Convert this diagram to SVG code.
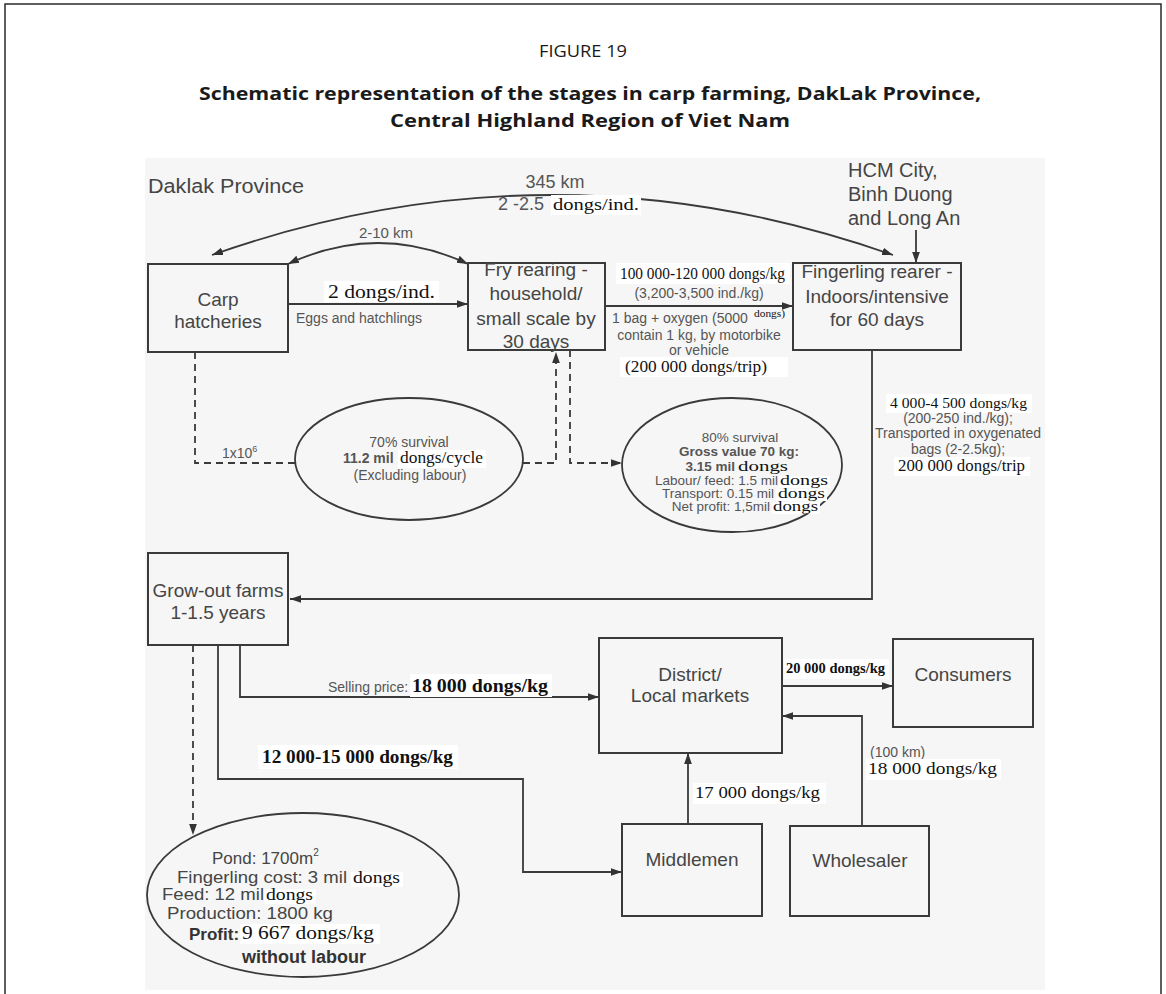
<svg xmlns="http://www.w3.org/2000/svg" width="1166" height="994" viewBox="0 0 1166 994">
  <style>
    .frame { fill: none; stroke: #2a2a2a; stroke-width: 1.5; }
    .panel { fill: #f6f6f6; }
    .box { fill: none; stroke: #3a3a3a; stroke-width: 2; }
    .oval { fill: none; stroke: #3a3a3a; stroke-width: 1.8; }
    .ntext { font-family: "Liberation Sans", Arial, sans-serif; font-size: 19px; fill: #454545; text-anchor: middle; }
    .place { font-family: "Liberation Sans", Arial, sans-serif; font-size: 20px; fill: #454545; }
    .small { font-family: "Liberation Sans", Arial, sans-serif; fill: #555; }
    .s14 { font-size: 14px; }
    .s135 { font-size: 13.5px; }
    .s18 { font-size: 18px; }
    .pond { font-size: 17px; fill: #454545; }
    .mid { text-anchor: middle; }
    .end { text-anchor: end; }
    .b { font-weight: bold; }
    .serif { font-family: "Liberation Serif", "Times New Roman", serif; fill: #111; }
    .bg { fill: #ffffff; }
    .line { fill: none; stroke: #3a3a3a; stroke-width: 1.8; }
    .dash { fill: none; stroke: #3a3a3a; stroke-width: 1.8; stroke-dasharray: 7 5; }
    .title { font-family: "Open Sans", "Liberation Sans", sans-serif; fill: #1a1a1a; text-anchor: middle; }
  </style>
  <defs>
    <marker id="arrow" viewBox="0 0 10 10" refX="10" refY="5" markerWidth="11" markerHeight="11" markerUnits="userSpaceOnUse" orient="auto-start-reverse">
      <path d="M0,1.5 L10,5 L0,8.5 z" fill="#333"/>
    </marker>
  </defs>

  <!-- page frame and figure header -->
  <path class="frame" d="M5,994 V4 H1161 V994"/>
  <text class="title" x="583" y="57" font-size="16.5" textLength="88" lengthAdjust="spacingAndGlyphs">FIGURE 19</text>
  <text class="title" x="590" y="100" font-size="18.5" font-weight="bold" textLength="782" lengthAdjust="spacingAndGlyphs">Schematic representation of the stages in carp farming, DakLak Province,</text>
  <text class="title" x="590" y="127" font-size="18.5" font-weight="bold" textLength="400" lengthAdjust="spacingAndGlyphs">Central Highland Region of Viet Nam</text>

  <!-- drawing panel -->
  <rect class="panel" x="145" y="158" width="900" height="832"/>

  <!-- region labels -->
  <g id="region-labels">
    <text class="place" x="148" y="193" textLength="156" lengthAdjust="spacingAndGlyphs">Daklak Province</text>
    <text class="place" x="848" y="177">HCM City,</text>
    <text class="place" x="848" y="201">Binh Duong</text>
    <text class="place" x="848" y="225">and Long An</text>
  </g>

  <!-- connectors -->
  <g id="connectors">
    <path class="line" d="M212,255 Q552,135 893,255" marker-start="url(#arrow)" marker-end="url(#arrow)"/>
    <path class="line" d="M288,264 Q378,222 468,264" marker-start="url(#arrow)" marker-end="url(#arrow)"/>
    <path class="line" d="M916,230 V263" marker-end="url(#arrow)"/>
    <path class="line" d="M288,304 H468" marker-end="url(#arrow)"/>
    <path class="line" d="M605,306 H793" marker-end="url(#arrow)"/>
    <path class="line" d="M872,350 V599 H290" marker-end="url(#arrow)"/>
    <path class="dash" d="M195,352 V463 H295"/>
    <path class="dash" d="M523,463 H556 V352" marker-end="url(#arrow)"/>
    <path class="dash" d="M570,350 V463 H622" marker-end="url(#arrow)"/>
    <path class="dash" d="M193,645 V835" marker-end="url(#arrow)"/>
    <path class="line" d="M240,645 V697 H599" marker-end="url(#arrow)"/>
    <path class="line" d="M218,645 V779 H523 V872 H622" marker-end="url(#arrow)"/>
    <path class="line" d="M782,686 H893" marker-end="url(#arrow)"/>
    <path class="line" d="M862,826 V716 H782" marker-end="url(#arrow)"/>
    <path class="line" d="M688,824 V753" marker-end="url(#arrow)"/>
  </g>

  <!-- connector labels -->
  <g id="connector-labels">
    <text class="small s18 mid" x="555" y="188">345 km</text>
    <text class="small s18" x="498" y="210">2 -2.5</text>
    <rect class="bg" x="551" y="195" width="90" height="20"/>
    <text class="serif" x="553" y="210" font-size="16" textLength="86" lengthAdjust="spacingAndGlyphs">dongs/ind.</text>
    <text class="small mid" x="386" y="238" style="font-size:15px">2-10 km</text>

    <rect class="bg" x="324" y="281" width="115" height="21"/>
    <text class="serif" x="328" y="298" font-size="19" textLength="107" lengthAdjust="spacingAndGlyphs">2 dongs/ind.</text>
    <text class="small s14" x="296" y="323">Eggs and hatchlings</text>

    <rect class="bg" x="616" y="263" width="174" height="21"/>
    <text class="serif" x="620" y="279" font-size="16" textLength="165" lengthAdjust="spacingAndGlyphs">100 000-120 000 dongs/kg</text>
    <text class="small s14 mid" x="699" y="298">(3,200-3,500 ind./kg)</text>
    <text class="small s14" x="612" y="323">1 bag + oxygen (5000</text>
    <text class="serif" x="754" y="317" font-size="11" textLength="31" lengthAdjust="spacingAndGlyphs">dongs)</text>
    <text class="small s14 mid" x="699" y="340">contain 1 kg, by motorbike</text>
    <text class="small s14 mid" x="699" y="355">or vehicle</text>
    <rect class="bg" x="620" y="357" width="168" height="20"/>
    <text class="serif" x="625" y="372" font-size="17" textLength="142" lengthAdjust="spacingAndGlyphs">(200 000 dongs/trip)</text>

    <rect class="bg" x="886" y="394" width="146" height="19"/>
    <text class="serif" x="890" y="408" font-size="15" textLength="137" lengthAdjust="spacingAndGlyphs">4 000-4 500 dongs/kg</text>
    <text class="small s14 mid" x="958" y="423">(200-250 ind./kg);</text>
    <text class="small s14 mid" x="958" y="438">Transported in oxygenated</text>
    <text class="small s14 mid" x="958" y="454">bags (2-2.5kg);</text>
    <rect class="bg" x="894" y="457" width="136" height="19"/>
    <text class="serif" x="898" y="471" font-size="16" textLength="127" lengthAdjust="spacingAndGlyphs">200 000 dongs/trip</text>

    <text class="small s14" x="222" y="458">1x10<tspan style="font-size:9px" dy="-6">6</tspan></text>

    <text class="small s14" x="328" y="692">Selling price:</text>
    <rect class="bg" x="410" y="674" width="142" height="23"/>
    <text class="serif b" x="412" y="692" font-size="18" textLength="136" lengthAdjust="spacingAndGlyphs">18 000 dongs/kg</text>

    <rect class="bg" x="258" y="745" width="200" height="24"/>
    <text class="serif b" x="262" y="763" font-size="18" textLength="191" lengthAdjust="spacingAndGlyphs">12 000-15 000 dongs/kg</text>

    <rect class="bg" x="784" y="659" width="105" height="20"/>
    <text class="serif b" x="786" y="673" font-size="15" textLength="99" lengthAdjust="spacingAndGlyphs">20 000 dongs/kg</text>

    <text class="small s14" x="870" y="757">(100 km)</text>
    <rect class="bg" x="866" y="759" width="135" height="21"/>
    <text class="serif" x="868" y="774" font-size="17" textLength="129" lengthAdjust="spacingAndGlyphs">18 000 dongs/kg</text>

    <rect class="bg" x="693" y="783" width="133" height="21"/>
    <text class="serif" x="695" y="798" font-size="17" textLength="125" lengthAdjust="spacingAndGlyphs">17 000 dongs/kg</text>
  </g>

  <!-- stage boxes -->
  <g id="carp-hatcheries">
    <rect class="box" x="148" y="264" width="140" height="88"/>
    <text class="ntext" x="218" y="306">Carp</text>
    <text class="ntext" x="218" y="328">hatcheries</text>
  </g>
  <g id="fry-rearing">
    <rect class="box" x="468" y="263" width="137" height="87"/>
    <text class="ntext" x="536" y="276">Fry rearing -</text>
    <text class="ntext" x="536" y="300">household/</text>
    <text class="ntext" x="536" y="325">small scale by</text>
    <text class="ntext" x="536" y="348">30 days</text>
  </g>
  <g id="fingerling-rearer">
    <rect class="box" x="793" y="263" width="168" height="87"/>
    <text class="ntext" x="877" y="278">Fingerling rearer -</text>
    <text class="ntext" x="877" y="303">Indoors/intensive</text>
    <text class="ntext" x="877" y="326">for 60 days</text>
  </g>
  <g id="grow-out">
    <rect class="box" x="148" y="553" width="140" height="92"/>
    <text class="ntext" x="218" y="597">Grow-out farms</text>
    <text class="ntext" x="218" y="619">1-1.5 years</text>
  </g>
  <g id="district-markets">
    <rect class="box" x="599" y="638" width="183" height="115"/>
    <text class="ntext" x="690" y="681">District/</text>
    <text class="ntext" x="690" y="702">Local markets</text>
  </g>
  <g id="consumers">
    <rect class="box" x="893" y="639" width="140" height="88"/>
    <text class="ntext" x="963" y="681">Consumers</text>
  </g>
  <g id="middlemen">
    <rect class="box" x="622" y="824" width="140" height="92"/>
    <text class="ntext" x="692" y="866">Middlemen</text>
  </g>
  <g id="wholesaler">
    <rect class="box" x="790" y="826" width="139" height="90"/>
    <text class="ntext" x="860" y="867">Wholesaler</text>
  </g>

  <!-- economic summaries -->
  <g id="fry-economics">
    <ellipse class="oval" cx="409" cy="459" rx="114" ry="61"/>
    <text class="small s14 mid" x="409" y="447">70% survival</text>
    <text class="small s14 b" x="343" y="463">11.2 mil</text>
    <rect class="bg" x="398" y="450" width="88" height="18"/>
    <text class="serif" x="400" y="463" font-size="16" textLength="83" lengthAdjust="spacingAndGlyphs">dongs/cycle</text>
    <text class="small s14 mid" x="410" y="480">(Excluding labour)</text>
  </g>
  <g id="fingerling-economics">
    <ellipse class="oval" cx="732" cy="465" rx="110" ry="67"/>
    <text class="small s135 mid" x="740" y="442">80% survival</text>
    <text class="small s135 mid b" x="739" y="456">Gross value 70 kg:</text>
    <text class="small s135 end b" x="735" y="471">3.15 mil</text>
    <text class="serif" x="738" y="471" font-size="14" textLength="50" lengthAdjust="spacingAndGlyphs">dongs</text>
    <text class="small s135 end" x="778" y="485">Labour/ feed: 1.5 mil</text>
    <rect class="bg" x="779" y="476" width="51" height="12"/>
    <text class="serif" x="780" y="485" font-size="14" textLength="48" lengthAdjust="spacingAndGlyphs">dongs</text>
    <text class="small s135 end" x="774" y="498">Transport: 0.15 mil</text>
    <rect class="bg" x="776" y="489" width="51" height="12"/>
    <text class="serif" x="778" y="498" font-size="14" textLength="47" lengthAdjust="spacingAndGlyphs">dongs</text>
    <text class="small s135 end" x="770" y="511">Net profit: 1,5mil</text>
    <rect class="bg" x="772" y="502" width="48" height="12"/>
    <text class="serif" x="773" y="511" font-size="14" textLength="45" lengthAdjust="spacingAndGlyphs">dongs</text>
  </g>
  <g id="grow-out-economics">
    <ellipse class="oval" cx="303" cy="895" rx="156" ry="82"/>
    <text class="small pond" x="212" y="864">Pond: 1700m<tspan style="font-size:10px" dy="-8">2</tspan></text>
    <text class="small pond" x="177" y="883" textLength="170" lengthAdjust="spacingAndGlyphs">Fingerling cost: 3 mil</text>
    <rect class="bg" x="351" y="872" width="52" height="15"/>
    <text class="serif" x="353" y="883" font-size="16" textLength="47" lengthAdjust="spacingAndGlyphs">dongs</text>
    <text class="small pond" x="162" y="900" textLength="102" lengthAdjust="spacingAndGlyphs">Feed: 12 mil</text>
    <rect class="bg" x="264" y="889" width="52" height="15"/>
    <text class="serif" x="266" y="900" font-size="16" textLength="47" lengthAdjust="spacingAndGlyphs">dongs</text>
    <text class="small pond" x="167" y="919" textLength="166" lengthAdjust="spacingAndGlyphs">Production: 1800 kg</text>
    <text class="small b" x="189" y="940" style="font-size:17px;fill:#333">Profit:</text>
    <rect class="bg" x="240" y="924" width="140" height="20"/>
    <text class="serif" x="242" y="939" font-size="18" textLength="132" lengthAdjust="spacingAndGlyphs">9 667 dongs/kg</text>
    <text class="small b mid" x="304" y="963" style="font-size:18px;fill:#333">without labour</text>
  </g>
</svg>
